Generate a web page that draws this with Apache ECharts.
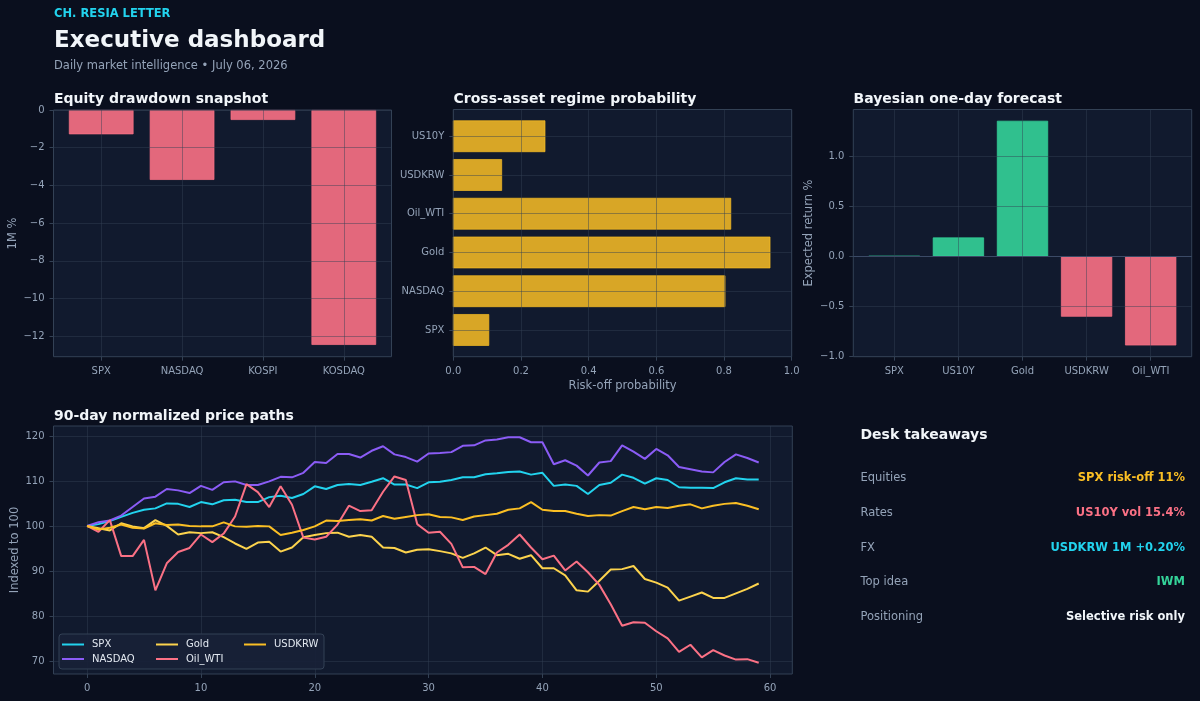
<!DOCTYPE html>
<html>
<head>
<meta charset="utf-8">
<script src="https://cdn.jsdelivr.net/npm/echarts@6/dist/echarts.min.js"></script>
<style>
html,body{margin:0;padding:0;background:#0a0f1e;}
#c{width:1200px;height:701px;}
</style>
</head>
<body>
<div id="c"></div>
<script>
// ---------- data ----------
const equityCats = ['SPX', 'NASDAQ', 'KOSPI', 'KOSDAQ'];
const equityVals = [-1.29, -3.71, -0.53, -12.46];
const equityTicks = [0, -2, -4, -6, -8, -10, -12];

const regimeCats = ['SPX', 'NASDAQ', 'Gold', 'Oil_WTI', 'USDKRW', 'US10Y'];
const regimeVals = [0.105, 0.803, 0.936, 0.82, 0.143, 0.271];
const regimeTicks = [0, 0.2, 0.4, 0.6, 0.8, 1.0];

const forecastCats = ['SPX', 'US10Y', 'Gold', 'USDKRW', 'Oil_WTI'];
const forecastVals = [0.003, 0.19, 1.36, -0.605, -0.893];
const forecastTicks = [-1.0, -0.5, 0, 0.5, 1.0];

const pathNames = ['SPX', 'NASDAQ', 'Gold', 'Oil_WTI', 'USDKRW'];
const spxPath = [100,100.4,101.1,102.0,102.9,103.6,103.9,105.0,104.9,104.2,105.3,104.8,105.7,105.8,105.3,105.3,106.4,106.7,106.2,107.1,108.8,108.2,109.1,109.3,109.1,109.8,110.6,109.2,109.2,108.4,109.7,109.8,110.2,110.8,110.8,111.5,111.7,112.0,112.1,111.4,111.8,108.9,109.2,108.9,107.1,109.1,109.6,111.4,110.7,109.4,110.6,110.2,108.6,108.5,108.5,108.4,109.7,110.6,110.3,110.3];
const nasdaqPath = [100,100.8,101.2,102.3,104.2,106.1,106.5,108.2,107.9,107.3,108.9,108.0,109.7,109.9,109.1,109.1,109.9,110.9,110.8,111.8,114.2,114.0,116.0,116.0,115.2,116.7,117.7,115.9,115.3,114.3,116.1,116.2,116.4,117.8,117.9,119.0,119.2,119.7,119.7,118.6,118.6,113.7,114.6,113.4,111.2,114.1,114.4,117.9,116.5,114.9,117.1,115.7,113.1,112.6,112.1,111.9,114.2,115.9,115.1,114.1];
const goldPath = [100,99.5,99.0,100.6,99.9,99.5,101.3,100.0,98.1,98.6,98.4,98.6,97.5,96.1,94.9,96.3,96.5,94.3,95.2,97.5,98.0,98.4,98.5,97.6,98.0,97.6,95.2,95.1,94.1,94.7,94.8,94.4,93.9,92.9,93.9,95.2,93.5,93.8,92.7,93.5,90.6,90.6,89.0,85.7,85.4,87.8,90.3,90.4,91.1,88.2,87.4,86.3,83.4,84.3,85.2,84.0,84.0,85.0,86.0,87.2];
const oilPath = [100,98.7,101.3,93.3,93.3,96.9,85.7,91.7,94.2,95.1,98.1,96.4,98.3,102.1,109.3,107.5,104.2,108.8,104.7,97.4,97.0,97.6,100.3,104.5,103.3,103.5,107.6,111.0,110.2,100.4,98.5,98.7,96.0,90.8,90.9,89.3,94.1,95.8,98.1,95.2,92.6,93.4,90.1,92.1,89.7,86.9,82.6,77.8,78.6,78.5,76.6,75.0,72.0,73.6,70.8,72.4,71.2,70.3,70.4,69.6];
const krwPath = [100,99.2,99.6,100.3,99.6,99.4,100.6,100.2,100.3,100.0,99.9,99.9,100.8,99.9,99.8,100.0,99.9,98.0,98.5,99.1,99.9,101.2,101.1,101.3,101.5,101.2,102.2,101.6,102.0,102.4,102.6,102.0,101.9,101.3,102.1,102.4,102.7,103.6,103.9,105.3,103.6,103.3,103.3,102.7,102.2,102.4,102.3,103.3,104.2,103.7,104.2,104.0,104.5,104.8,103.9,104.5,104.9,105.1,104.5,103.7];
const pathXTicks = [0, 10, 20, 30, 40, 50, 60];
const pathYTicks = [70, 80, 90, 100, 110, 120];

const takeawayLabels = ['Equities', 'Rates', 'FX', 'Top idea', 'Positioning'];
const takeawayValues = ['SPX risk-off 11%', 'US10Y vol 15.4%', 'USDKRW 1M +0.20%', 'IWM', 'Selective risk only'];

// ---------- styles ----------
const FONT = '"DejaVu Sans", sans-serif';
const C = {
  bg: '#0a0f1e', panel: '#111a2e', spine: '#334155',
  grid: 'rgba(51,65,85,0.45)', tick: '#94a3b8', title: '#f1f5f9',
  cyan: '#22d3ee', violet: '#8b5cf6', gold: '#fcd34d', rose: '#fb7185',
  amber: '#fbbf24', green: '#34d399', white: '#f1f5f9'
};
const pathColors = [C.cyan, C.violet, C.gold, C.rose, C.amber];
const takeawayColors = [C.amber, C.rose, C.cyan, C.green, C.white];
const ROSE_FILL = 'rgba(251,113,133,0.9)';
const GREEN_FILL = 'rgba(52,211,153,0.9)';
const AMBER_FILL = 'rgba(251,191,36,0.85)';

function fmtNum(dec) {
  return function (v) {
    const s = Math.abs(v).toFixed(dec);
    return (v < -1e-9 ? '\u2212' : '') + s;
  };
}
function fmtCat(cats) {
  return function (v) {
    const r = Math.round(v);
    if (Math.abs(v - r) > 1e-6) return '';
    return cats[r] !== undefined ? cats[r] : '';
  };
}
function catExtent(n) {
  const span = (n - 1) + 0.8;
  return [-0.4 - 0.05 * span, (n - 1) + 0.4 + 0.05 * span];
}
const idx = arr => arr.map((_, i) => i);

const gridBase = { show: true, backgroundColor: C.panel, borderColor: C.spine, borderWidth: 1 };
function axis(gridIndex, ext, ticks, margin, formatter, z) {
  return {
    type: 'value', gridIndex: gridIndex, min: ext[0], max: ext[1], z: z || 0,
    axisLine: { show: false, onZero: false },
    axisTick: { show: true, length: 4, lineStyle: { color: C.spine }, customValues: ticks },
    axisLabel: { color: C.tick, fontSize: 10, fontFamily: FONT, margin: margin, formatter: formatter, customValues: ticks },
    splitLine: { show: true, lineStyle: { color: C.grid, width: 1 } }
  };
}

// extents
const eqX = catExtent(equityCats.length);
const eqMin = Math.min(0, ...equityVals);
const eqY = [eqMin - 0.05 * (0 - eqMin), 0];
const rgX = [0, 1];
const rgY = catExtent(regimeCats.length);
const fcX = catExtent(forecastCats.length);
const fcLo = Math.min(0, ...forecastVals), fcHi = Math.max(0, ...forecastVals);
const fcY = [fcLo - 0.05 * (fcHi - fcLo), fcHi + 0.05 * (fcHi - fcLo)];
const allPaths = [spxPath, nasdaqPath, goldPath, oilPath, krwPath];
const pLo = Math.min(...allPaths.flat()), pHi = Math.max(...allPaths.flat());
const pY = [pLo - 0.05 * (pHi - pLo), pHi + 0.05 * (pHi - pLo)];
const pN = spxPath.length;
const pX = [-0.05 * (pN - 1), (pN - 1) * 1.05];

// ---------- chart ----------
const chart = echarts.init(document.getElementById('c'), null, { renderer: 'canvas' });

const textEl = (x, y, text, size, color, weight, align, rot) => ({
  type: 'text', x: x, y: y, z: 10, rotation: rot || 0,
  style: {
    text: text, fill: color, font: (weight || 'normal') + ' ' + size + 'px ' + FONT,
    textAlign: align || 'left', align: align || 'left',
    textVerticalAlign: 'middle', verticalAlign: 'middle'
  }
});

const graphics = [
  textEl(54, 14.5, 'CH. RESIA LETTER', 11.5, C.cyan, 'bold'),
  textEl(54, 41.5, 'Executive dashboard', 23, C.white, 'bold'),
  textEl(54, 66.3, 'Daily market intelligence \u2022 July 06, 2026', 11.5, C.tick),
  textEl(54, 99.2, 'Equity drawdown snapshot', 14, C.white, 'bold'),
  textEl(453.5, 99.2, 'Cross-asset regime probability', 14, C.white, 'bold'),
  textEl(853.5, 99.2, 'Bayesian one-day forecast', 14, C.white, 'bold'),
  textEl(54, 416.2, '90-day normalized price paths', 14, C.white, 'bold'),
  textEl(13, 233.5, '1M %', 11.5, C.tick, 'normal', 'center', Math.PI / 2),
  textEl(622.5, 386, 'Risk-off probability', 11.5, C.tick, 'normal', 'center'),
  textEl(809, 233, 'Expected return %', 11.5, C.tick, 'normal', 'center', Math.PI / 2),
  textEl(15, 550, 'Indexed to 100', 11.5, C.tick, 'normal', 'center', Math.PI / 2),
  textEl(860.5, 435.8, 'Desk takeaways', 14, C.white, 'bold'),
  {
    type: 'rect', z: 3,
    shape: { x: 59, y: 634, width: 265, height: 35, r: 3 },
    style: { fill: 'rgba(24,33,55,0.92)', stroke: C.spine, lineWidth: 1 }
  }
];
const rowY = [478, 513, 547.7, 582, 616.7];
takeawayLabels.forEach((t, i) => {
  graphics.push(textEl(860.5, rowY[i], t, 11.5, C.tick, 'normal', 'left'));
  graphics.push(textEl(1185, rowY[i], takeawayValues[i], 11.5, takeawayColors[i], 'bold', 'right'));
});

const legendBase = {
  orient: 'vertical', top: 639.5, itemWidth: 22, itemHeight: 2, itemGap: 4.5,
  icon: 'rect', selectedMode: false, padding: 0,
  textStyle: { color: '#e2e8f0', fontSize: 10, fontFamily: FONT, padding: [0, 0, 0, 3] }
};

const option = {
  backgroundColor: C.bg,
  animation: false,
  textStyle: { fontFamily: FONT },
  graphic: { elements: graphics },
  legend: [
    Object.assign({}, legendBase, { left: 62, data: ['SPX', 'NASDAQ'] }),
    Object.assign({}, legendBase, { left: 156, data: ['Gold', 'Oil_WTI'] }),
    Object.assign({}, legendBase, { left: 244, data: ['USDKRW'] })
  ],
  grid: [
    Object.assign({ left: 53.5, top: 110, width: 338, height: 246.7 }, gridBase),
    Object.assign({ left: 453.3, top: 109.5, width: 338.4, height: 247.2 }, gridBase),
    Object.assign({ left: 853.3, top: 109.5, width: 338.4, height: 247.2 }, gridBase),
    Object.assign({ left: 53.5, top: 426, width: 738.8, height: 248 }, gridBase)
  ],
  xAxis: [
    axis(0, eqX, idx(equityCats), 10, fmtCat(equityCats), 3),
    axis(1, rgX, regimeTicks, 10, fmtNum(1), 3),
    axis(2, fcX, idx(forecastCats), 10, fmtCat(forecastCats), 3),
    axis(3, pX, pathXTicks, 9, fmtNum(0), 0)
  ],
  yAxis: [
    axis(0, eqY, equityTicks, 9, fmtNum(0), 3),
    axis(1, rgY, idx(regimeCats), 9, fmtCat(regimeCats), 3),
    axis(2, fcY, forecastTicks, 9, fmtNum(1), 3),
    axis(3, pY, pathYTicks, 9, fmtNum(0), 0)
  ],
  series: [
    {
      type: 'bar', xAxisIndex: 0, yAxisIndex: 0, barWidth: 64.7, z: 2,
      data: equityVals.map((v, i) => [i, v]),
      itemStyle: { color: ROSE_FILL, borderColor: ROSE_FILL, borderWidth: 0.8 }
    },
    {
      type: 'custom', xAxisIndex: 1, yAxisIndex: 1, z: 2,
      data: regimeVals.map((v, i) => [v, i]),
      encode: { x: 0, y: 1 },
      renderItem: function (params, api) {
        const v = api.value(0), p = api.value(1);
        const a = api.coord([0, p]);
        const b = api.coord([v, p]);
        const h = api.size([0, 0.8])[1];
        return {
          type: 'rect',
          shape: { x: a[0], y: a[1] - h / 2, width: b[0] - a[0], height: h },
          style: { fill: AMBER_FILL, stroke: AMBER_FILL, lineWidth: 0.8 }
        };
      }
    },
    {
      type: 'bar', xAxisIndex: 2, yAxisIndex: 2, barWidth: 51.3, z: 2,
      data: forecastVals.map((v, i) => {
        const col = v >= 0 ? GREEN_FILL : ROSE_FILL;
        return { value: [i, v], itemStyle: { color: col, borderColor: col, borderWidth: 0.8 } };
      }),
      markLine: {
        silent: true, symbol: 'none', label: { show: false },
        lineStyle: { color: '#3b4a66', width: 1, type: 'solid' },
        data: [{ yAxis: 0 }]
      }
    }
  ].concat(allPaths.map((arr, k) => ({
    type: 'line', name: pathNames[k], xAxisIndex: 3, yAxisIndex: 3,
    data: arr.map((v, i) => [i, v]),
    showSymbol: false, symbol: 'none',
    lineStyle: { color: pathColors[k], width: 2 },
    itemStyle: { color: pathColors[k] },
    z: 2
  })))
};

chart.setOption(option);
</script>
</body>
</html>
